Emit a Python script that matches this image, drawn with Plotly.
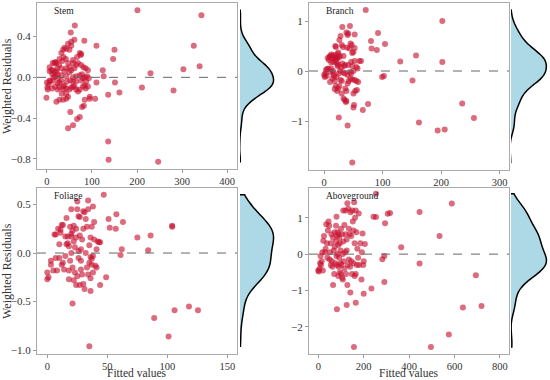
import plotly.graph_objects as go

# ---------------- data ----------------
stem_x = [0, 1, 2, -1, 4, 6, 7, 6, 10, 12, 13, 15, 17, 21, 24, 23, 17, 19, 21, 18, 12, 24, 28, 32, 28, 24, 36, 39, 37, 43,
          33, 43, 47, 50, 54, 58, 61, 65, 69, 73, 80, 84, 86, 76, 80, 84, 78, 73, 65, 58, 50, 54, 61, 65, 58, 50, 43, 47, 42, 37,
          34, 28, 32, 36, 39, 43, 50, 47, 54, 61, 58, 67, 73, 76, 69, 76, 81, 86, 91, 89, 93, 87, 91, 95, 84, 82, 78, 73, 67, 58,
          47, 43, 28, 21, 36, 52, 13, 6, 27, 32, 39, 43, 32, 24, 19, 13, 44, 52, 58, 65, 83, 62, 53, 54, 75,
          201, 343, 326, 339, 303, 281, 230, 211, 247, 137, 136, 161, 151, 150, 147, 136, 126, 124, 110, 110, 107, 95]
stem_y = [-0.05, -0.10, -0.12, -0.20, -0.07, -0.03, -0.04, 0.06, 0.07, 0.03, -0.03, 0.00, 0.05, 0.06, 0.03, 0.09, 0.14, 0.15, 0.14, -0.09,
          -0.11, -0.06, -0.05, -0.03, -0.10, -0.12, -0.09, -0.08, -0.12, -0.11, -0.16, -0.16, -0.19, -0.12, -0.10, -0.09, -0.09, -0.12, -0.14, -0.12,
          -0.09, -0.08, -0.11, -0.03, -0.01, 0.00, 0.03, 0.02, 0.01, 0.00, 0.05, 0.07, 0.09, 0.12, 0.14, 0.10, 0.09, 0.14, 0.18, 0.20,
          0.16, 0.18, 0.24, 0.27, 0.29, 0.28, 0.27, 0.33, 0.35, 0.37, 0.17, 0.20, 0.24, 0.23, 0.14, 0.12, 0.10, 0.09, 0.07, 0.01,
          -0.01, -0.04, -0.09, -0.19, -0.22, -0.28, -0.29, -0.39, -0.41, -0.47, -0.50, -0.21, -0.22, -0.24, -0.22, -0.34, 0.14, 0.10, 0.12, 0.09,
          0.06, 0.01, 0.02, -0.01, 0.01, 0.07, -0.04, -0.03, -0.04, -0.04, 0.36, 0.51, 0.44, 0.31, 0.22,
          0.66, 0.61, 0.31, 0.11, 0.08, -0.13, 0.04, -0.10, -0.83, -0.81, -0.63, -0.15, -0.05, 0.27, 0.18, -0.17, 0.01, 0.07, 0.31, -0.05, -0.21, -0.21]

branch_x = [0, 1, 2, 3, 5, 4, 7, 8, 6, 9, 10, 12, 14, 11, 12, 15, 16, 10, 14, 17, 18, 19, 20, 17, 18, 20, 22, 21, 23, 24,
            25, 22, 23, 20, 18, 22, 24, 26, 21, 25, 27, 28, 30, 26, 28, 31, 30, 32, 33, 31, 34, 33, 30, 33, 35, 37, 38, 36, 38, 40,
            42, 39, 40, 41, 38, 44, 43, 45, 47, 48, 50, 46, 48, 50, 46, 44, 45, 48, 52, 55, 53, 50, 56, 58, 52, 55, 57, 52, 52, 60,
            41, 36, 29, 27, 24, 15, 16, 12, 40, 35,
            71, 202, 202, 130, 157, 151, 162, 194, 206, 236, 256, 104, 99, 102, 92, 80, 81, 90, 75, 66, 48, 40, 25, 51, 50, 63]
branch_y = [-0.08, -0.12, -0.05, 0.02, 0.04, -0.10, 0.05, 0.22, 0.26, 0.28, 0.30, 0.33, 0.30, -0.02, 0.05, 0.00, -0.06, -0.22, -0.15, -0.10,
            -0.20, 0.50, 0.48, 0.32, 0.25, 0.20, 0.25, 0.28, 0.34, 0.37, 0.27, 0.15, 0.10, -0.30, -0.36, -0.40, -0.35, -0.30, -0.12, -0.05,
            0.00, -0.18, -0.20, 0.62, 0.70, 0.88, 0.52, 0.48, 0.30, 0.15, 0.10, -0.03, -0.45, -0.55, -0.58, -0.62, -0.60, -0.35, -0.40, -0.25,
            -0.20, 0.47, 0.72, 0.75, 0.77, 0.90, 0.45, 0.55, 0.52, 0.36, 0.38, 0.18, 0.10, 0.00, -0.05, -0.02, -0.15, -0.17, -0.18, -0.20,
            -0.40, -0.45, -0.38, -0.22, 0.20, 0.08, 0.05, 0.73, 0.46, 0.20, 0.12, 0.12, 0.07, 0.30, 0.12, 0.25, 0.18, 0.17, -0.08, -0.05,
            1.22, 1.00, 0.18, 0.19, 0.31, -0.19, -1.03, -1.19, -1.17, -0.65, -0.94, 0.54, -0.12, -0.10, 0.76, 0.60, 0.45, 0.42, -0.66, -0.78,
            -1.83, -1.09, -0.93, -0.68, -0.73, 0.20]

foliage_x = [0, 0, 1, 3, 3, 5, 6, 7, 7, 8, 10, 10, 11, 12, 11, 13, 14, 15, 16, 16, 17, 17, 18, 18, 19, 19, 20, 20, 20, 21,
             21, 22, 22, 22, 23, 23, 24, 24, 25, 25, 25, 26, 26, 26, 27, 27, 28, 28, 29, 29, 30, 30, 30, 31, 31, 32, 32, 33, 33, 34,
             34, 35, 35, 36, 36, 37, 37, 38, 38, 38, 39, 39, 40, 41, 41, 42, 43, 36, 37, 27, 20, 18, 15, 13, 9, 12, 28, 34, 24,
             47, 51, 57.5, 57, 52, 63, 62, 61, 75, 86, 84, 104, 104, 89, 101, 106, 118, 125.5, 49, 44, 35, 21, 36, 44]
foliage_y = [-0.20, -0.27, -0.25, -0.12, -0.08, -0.18, 0.19, 0.19, -0.05, -0.18, -0.05, 0.09, 0.24, 0.29, 0.21, -0.10, -0.17, -0.03, 0.09, 0.36,
             0.10, 0.17, -0.18, -0.27, 0.27, -0.08, 0.45, 0.00, 0.20, 0.23, -0.15, 0.28, 0.12, -0.28, -0.20, 0.06, 0.16, -0.33, 0.53, 0.45,
             -0.24, 0.38, 0.02, -0.05, 0.18, -0.33, 0.04, -0.17, 0.14, -0.22, 0.43, 0.25, -0.32, 0.42, -0.37, 0.35, 0.00, 0.27, -0.15, 0.54,
             0.45, -0.10, 0.08, -0.04, 0.16, 0.27, -0.12, 0.48, -0.20, -0.03, 0.32, 0.14, -0.13, 0.04, -0.15, 0.12, 0.11, -0.26, -0.06, 0.37,
             0.17, 0.07, 0.17, 0.29, 0.25, -0.12, -0.08, -0.22, 0.25,
             0.60, 0.35, 0.40, 0.25, 0.26, 0.32, 0.04, -0.02, 0.16, 0.18, 0.03, 0.28, 0.27, -0.67, -0.86, -0.59, -0.55, -0.59, -0.25, -0.33,
             -0.96, -0.52, -0.39, 0.11]

above_x = [0, 2, 5, 8, 10, 12, 15, 18, 20, 22, 25, 30, 32, 35, 38, 40, 42, 45, 48, 50, 52, 55, 55, 58, 60, 62, 65, 65, 68, 70,
           72, 72, 75, 78, 78, 80, 80, 82, 82, 85, 85, 88, 88, 90, 90, 92, 92, 95, 95, 98, 98, 100, 100, 102, 104, 105, 108, 108, 110, 110,
           112, 115, 115, 118, 120, 120, 122, 125, 125, 128, 128, 130, 132, 135, 135, 138, 140, 142, 145, 145, 148, 150, 152, 155, 155, 158, 160, 160, 162, 165,
           165, 168, 170, 172, 175, 178, 180, 185, 190, 192, 195, 198, 205, 200,
           254, 588, 446, 316, 306, 254, 243, 294, 534, 365, 446, 291, 282, 291, 234, 200, 694, 637, 719, 575, 496, 157, 82, 125, 165, 141]
above_y = [-0.45, -0.48, -0.40, -0.25, -0.05, -0.30, -0.20, 0.05, -0.45, 0.37, 0.50, 0.05, 0.15, 0.82, 0.30, -0.10, 0.65, 0.90, 0.78, -0.15,
           0.05, 0.30, -0.30, 0.55, -0.20, -0.35, 0.45, -0.85, 0.10, -0.55, 0.60, 0.20, -0.25, 0.78, 0.35, 1.03, -0.05, 0.50, -0.30, 0.60,
           0.00, 0.25, -0.60, 0.55, -0.35, 0.45, -0.10, 0.30, -0.50, 0.10, -0.25, 0.70, -0.55, -0.30, 0.55, -0.65, -0.70, 0.00, 1.20, 0.35,
           -0.20, 0.80, -0.40, 0.05, 1.20, 0.55, -0.55, 0.40, 0.10, -0.85, 1.40, -0.30, 1.25, 0.70, -0.15, 0.55, -0.35, 1.15, 0.50, -0.20,
           -0.55, 1.20, 0.90, 0.65, -0.25, 1.43, -0.60, 0.30, 1.00, 1.20, -0.55, 0.60, -0.30, 0.15, -0.10, 1.12, -0.30, 0.30, -0.70, 0.05,
           0.57, -0.30, 0.28, -0.20,
           1.66, 1.39, 1.16, 1.13, 1.11, 1.02, 1.03, 0.85, 0.50, 0.19, -0.26, -0.05, -0.14, -0.77, -0.95, -1.09, -0.58, -1.47, -1.43, -2.21,
           -2.56, -2.56, -1.52, -1.40, -1.34, -1.06]

panel_names = ["Stem", "Branch", "Foliage", "Aboveground"]
x_ticks = [[0, 100, 200, 300, 400], [0, 100, 200, 300], [0, 50, 100, 150], [0, 200, 400, 600, 800]]
y_ticks = [[0.4, 0.0, -0.4, -0.8], [1, 0, -1], [0.5, 0.0, -0.5, -1.0], [1, 0, -1, -2]]
y_tick_text = [["0.4", "0.0", "\u22120.4", "\u22120.8"], ["1", "0", "\u22121"],
               ["0.5", "0.0", "\u22120.5", "\u22121.0"], ["1", "0", "\u22121", "\u22122"]]

# ---------------- layout ----------------
W, H = 550, 380
panels = [
    dict(x=stem_x, y=stem_y, px=(37, 237), py=(3, 169), dx=(240, 277), xr=[-22, 422], yr=[-0.90, 0.73]),
    dict(x=branch_x, y=branch_y, px=(309, 509), py=(3, 170), dx=(511, 550), xr=[-26, 316], yr=[-1.98, 1.36]),
    dict(x=foliage_x, y=foliage_y, px=(37, 237), py=(188, 354), dx=(240, 277), xr=[-8.6, 158], yr=[-1.04, 0.67]),
    dict(x=above_x, y=above_y, px=(309, 509), py=(188, 354), dx=(511, 550), xr=[-41, 840], yr=[-2.75, 1.82]),
]

SERIF = "Liberation Serif, Times New Roman, serif"
fig = go.Figure()
layout = dict(width=W, height=H, margin=dict(l=0, r=0, t=0, b=0, autoexpand=False),
              paper_bgcolor="white", plot_bgcolor="white", showlegend=False,
              font=dict(family=SERIF, size=11, color="#333"))
annotations = []
shapes = []

for i, p in enumerate(panels):
    xa = 2 * i + 1
    dxa = 2 * i + 2
    ya = 2 * i + 1
    dya = 2 * i + 2
    xn = "x" if xa == 1 else f"x{xa}"
    yn = "y" if ya == 1 else f"y{ya}"
    dxn = f"x{dxa}"
    dyn = f"y{dya}"
    ydom = [1 - p["py"][1] / H, 1 - p["py"][0] / H]

    fig.add_trace(go.Scatter(x=p["x"], y=p["y"], mode="markers", xaxis=xn, yaxis=yn,
                             marker=dict(color="#C8102E", opacity=0.62, size=6, line=dict(width=0)),
                             hoverinfo="skip"))
    fig.add_trace(go.Violin(y=p["y"], x0=0, xaxis=dxn, yaxis=dyn, side="positive", width=1,
                            spanmode="hard", points=False, fillcolor="#ADD8E6",
                            line=dict(color="black", width=1.5), box_visible=False,
                            meanline_visible=False, hoverinfo="skip", opacity=1))

    xkey = "xaxis" if xa == 1 else f"xaxis{xa}"
    ykey = "yaxis" if ya == 1 else f"yaxis{ya}"
    layout[xkey] = dict(domain=[p["px"][0] / W, p["px"][1] / W], anchor=yn, range=p["xr"], automargin=False,
                        tickvals=x_ticks[i], ticks="outside", ticklen=2.5, tickcolor="#999",
                        showgrid=False, zeroline=False, showline=True, linecolor="#aaa", linewidth=1.2,
                        mirror=True, tickfont=dict(family=SERIF, size=10.5, color="#333"))
    layout[ykey] = dict(domain=ydom, anchor=xn, range=p["yr"], tickvals=y_ticks[i], ticktext=y_tick_text[i],
                        automargin=False,
                        ticks="outside", ticklen=3, tickcolor="#999", showgrid=False, zeroline=False,
                        showline=True, linecolor="#aaa", linewidth=1.2, mirror=True,
                        tickfont=dict(family=SERIF, size=11, color="#333"))
    layout[f"xaxis{dxa}"] = dict(domain=[p["dx"][0] / W, p["dx"][1] / W], anchor=dyn, range=[0.015, 0.55],
                                 visible=False, automargin=False)
    layout[f"yaxis{dya}"] = dict(domain=ydom, anchor=dxn, matches=yn, visible=False, automargin=False)

    shapes.append(dict(type="line", xref=f"{xn} domain", yref=yn, x0=0, x1=1, y0=0, y1=0,
                       line=dict(color="#666", width=1, dash="dash")))
    annotations.append(dict(text=panel_names[i], xref="paper", yref="paper",
                            x=(p["px"][0] + 15) / W, y=1 - (p["py"][0] + 8) / H,
                            xanchor="left", yanchor="middle", showarrow=False,
                            font=dict(family=SERIF, size=9.5, color="#222")))
    if i in (0, 2):
        annotations.append(dict(text="Weighted Residuals", xref="paper", yref="paper", textangle=-90,
                                x=7 / W, y=(ydom[0] + ydom[1]) / 2, xanchor="center", yanchor="middle",
                                showarrow=False, font=dict(family=SERIF, size=12, color="#333")))
    if i in (2, 3):
        annotations.append(dict(text="Fitted values", xref="paper", yref="paper",
                                x=(p["px"][0] + p["px"][1]) / 2 / W, y=0,
                                xanchor="center", yanchor="bottom", borderpad=0,
                                showarrow=False, font=dict(family=SERIF, size=11.5, color="#333")))

layout["annotations"] = annotations
layout["shapes"] = shapes
fig.update_layout(**layout)
fig.write_html("out.html", config={"displayModeBar": False},
               post_script="document.body.style.margin='0';document.body.style.padding='0';")
